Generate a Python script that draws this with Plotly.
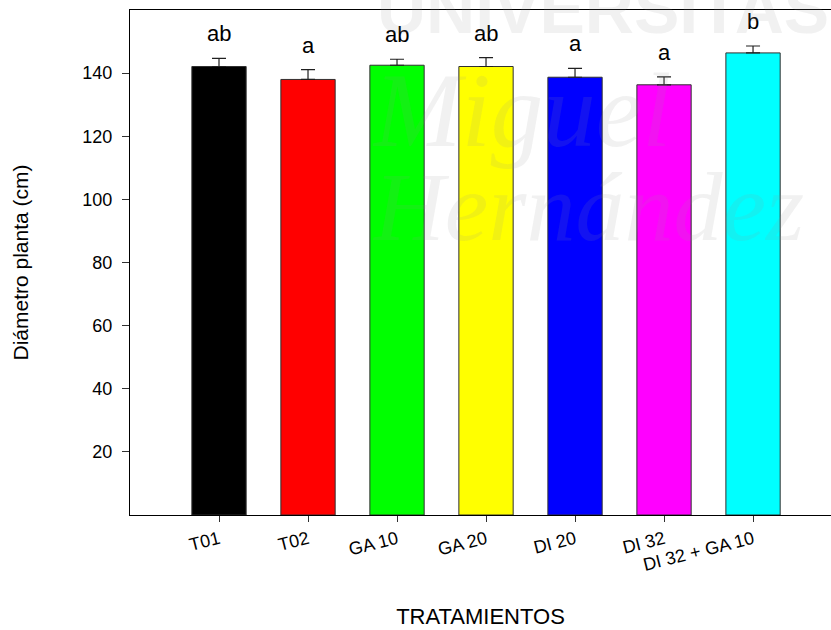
import plotly.graph_objects as go

# Treatment groups, mean plant diameter (cm), standard error and significance letters
tratamientos = ["T01", "T02", "GA 10", "GA 20", "DI 20", "DI 32", "DI 32 + GA 10"]
diametro = [142.1, 138.0, 142.5, 142.1, 138.7, 136.3, 146.4]
error_std = [2.6, 3.1, 1.9, 2.8, 2.8, 2.5, 2.2]
letras = ["ab", "a", "ab", "ab", "a", "a", "b"]
colores = ["#000000", "#ff0000", "#00ff00", "#ffff00", "#0000ff", "#ff00ff", "#00ffff"]
y_ticks = [20, 40, 60, 80, 100, 120, 140]

FONT = "Liberation Sans, Arial, sans-serif"
SERIF = "Liberation Serif, Times New Roman, serif"

fig = go.Figure()

fig.add_trace(go.Bar(
    x=list(range(len(tratamientos))),
    y=diametro,
    width=0.61,
    marker=dict(color=colores, line=dict(color="#303030", width=1)),
    error_y=dict(type="data", symmetric=False, array=error_std,
                 arrayminus=[0] * len(error_std),
                 color="#202020", thickness=1.2, width=7),
    showlegend=False,
    hoverinfo="skip",
))

# Significance letters above each error bar
for i, (v, e, t) in enumerate(zip(diametro, error_std, letras)):
    fig.add_annotation(x=i, y=v + e, text=t, showarrow=False,
                       yanchor="bottom", yshift=10,
                       font=dict(family=FONT, size=22, color="black"))

# Faint university watermark in the background
wm = "rgba(150,150,150,0.13)"
fig.add_annotation(xref="paper", yref="paper", x=0.35, y=0.923, xanchor="left",
                   yanchor="bottom", text="UNIVERSITAS", showarrow=False,
                   font=dict(family=FONT, size=68, color=wm, weight="bold"))
fig.add_annotation(xref="paper", yref="paper", x=0.342, y=0.80, xanchor="left",
                   yanchor="middle", text="Miguel", showarrow=False,
                   font=dict(family=SERIF, size=105, color=wm, style="italic"))
fig.add_annotation(xref="paper", yref="paper", x=0.342, y=0.61, xanchor="left",
                   yanchor="middle", text="Hernández", showarrow=False,
                   font=dict(family=SERIF, size=98, color=wm, style="italic"))

fig.update_layout(
    width=831, height=630,
    margin=dict(l=130, r=0, t=10, b=115),
    paper_bgcolor="white", plot_bgcolor="white",
    font=dict(family=FONT, color="black"),
    xaxis=dict(
        range=[-1, 6.876],
        tickmode="array",
        tickvals=list(range(len(tratamientos))),
        ticktext=tratamientos,
        tickangle=-14,
        ticks="outside", ticklen=6, tickcolor="#303030",
        tickfont=dict(family=FONT, size=18, color="black"),
        showline=True, linecolor="black", linewidth=1.2,
        mirror=True,
        showgrid=False, zeroline=False,
        title=dict(text="TRATAMIENTOS", standoff=34,
                   font=dict(family=FONT, size=22, color="black")),
    ),
    yaxis=dict(
        range=[0, 160],
        tickmode="array", tickvals=y_ticks,
        ticks="outside", ticklen=7, tickcolor="#303030",
        ticklabelstandoff=6,
        tickfont=dict(family=FONT, size=18, color="black"),
        showline=True, linecolor="black", linewidth=1.2,
        showgrid=False, zeroline=False,
        title=dict(text="Diámetro planta (cm)", standoff=47,
                   font=dict(family=FONT, size=21, color="black")),
    ),
)

fig.write_html("out.html")
